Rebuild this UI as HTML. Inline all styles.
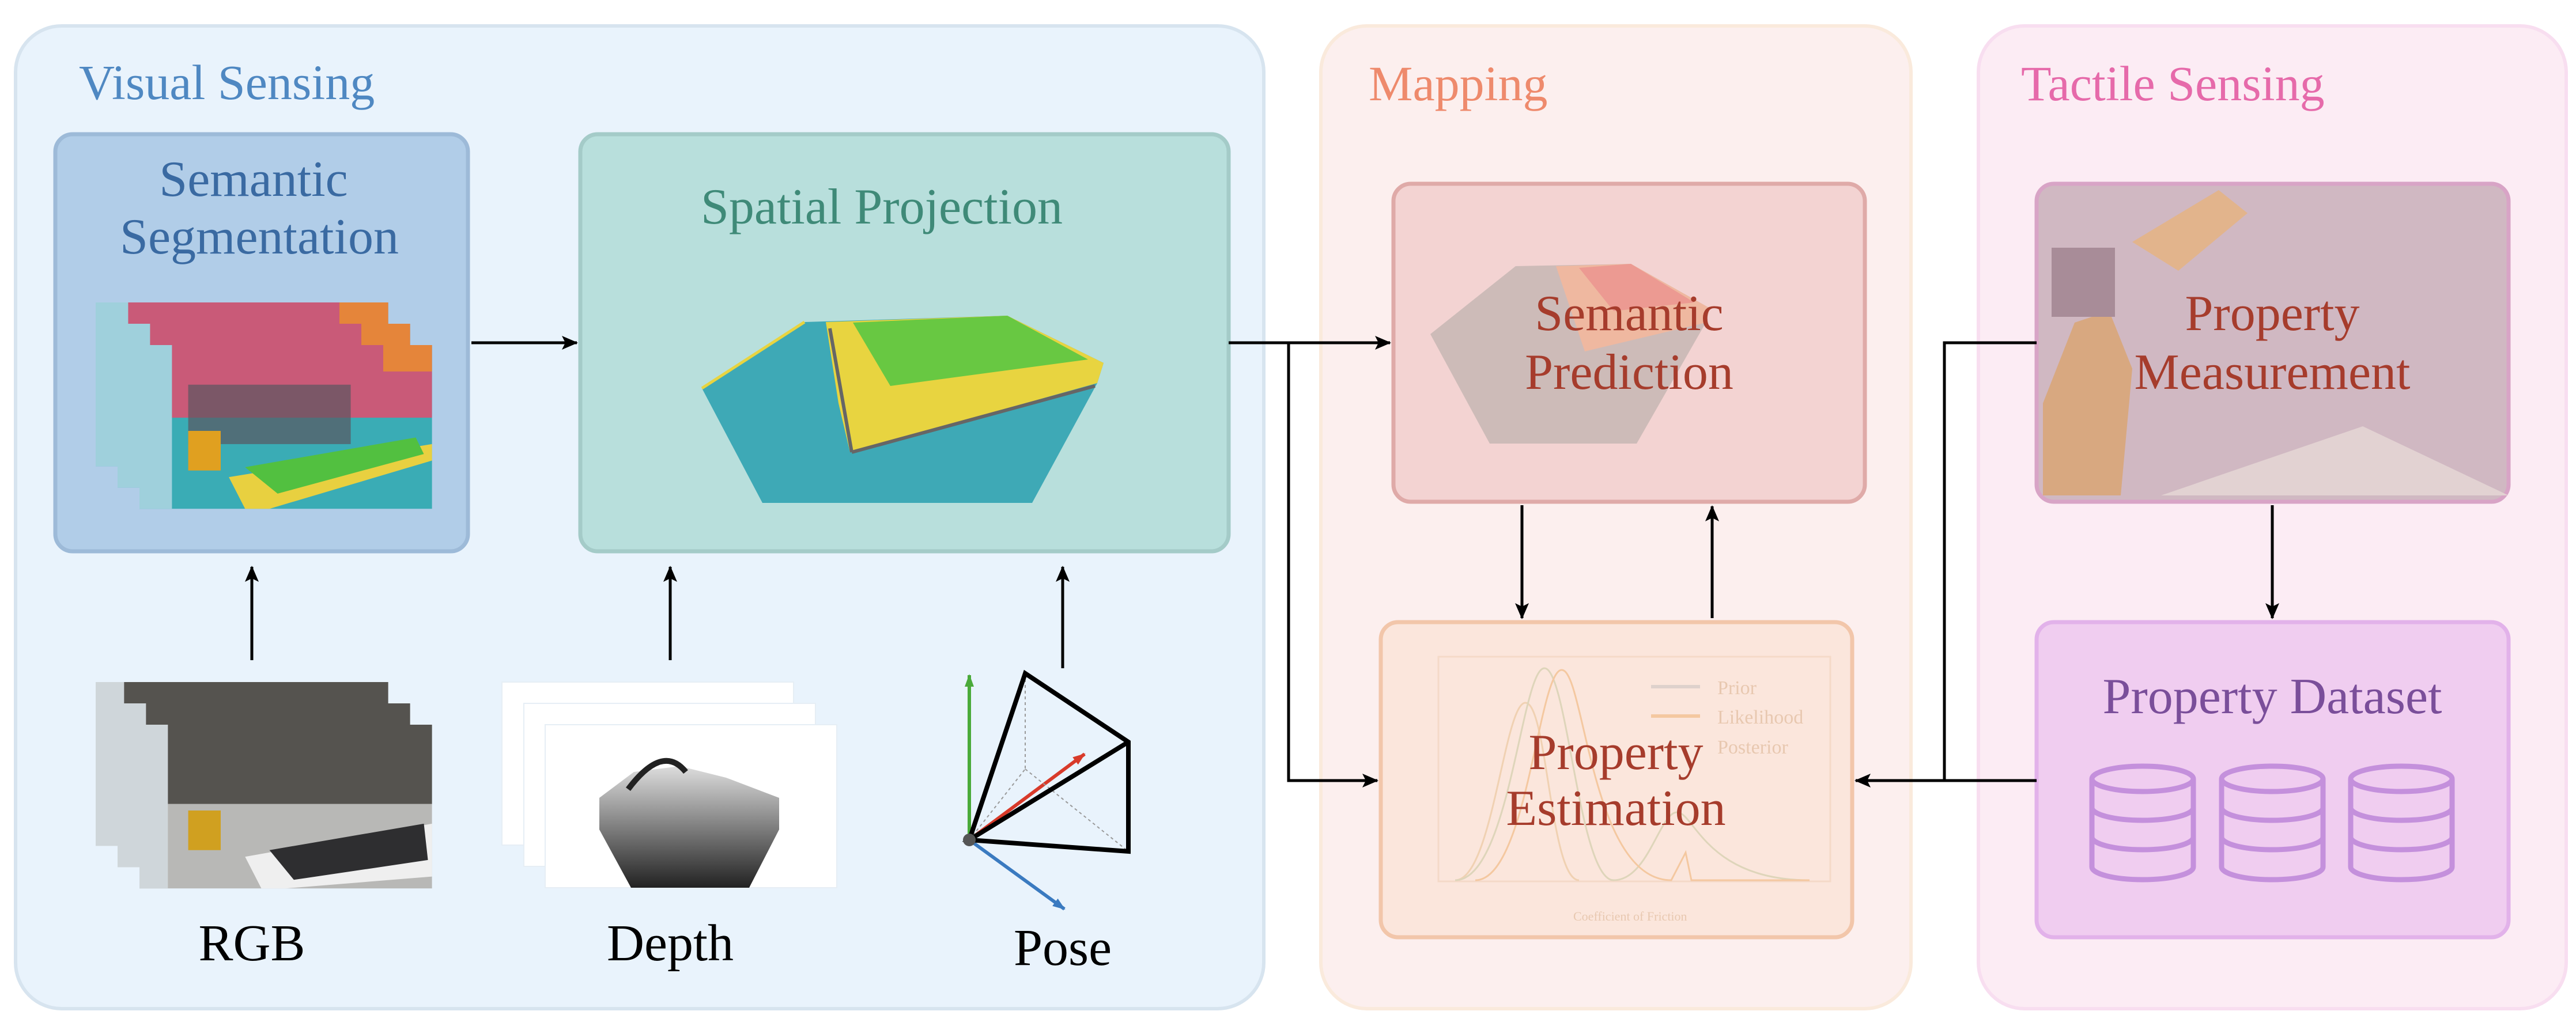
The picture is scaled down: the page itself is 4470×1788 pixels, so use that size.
<!DOCTYPE html>
<html><head><meta charset="utf-8"><style>
html,body{margin:0;padding:0;background:#fff;}
svg{display:block;}
text{font-family:"Liberation Serif",serif;}
</style></head><body>
<svg width="4470" height="1788" viewBox="0 0 4470 1788" xmlns="http://www.w3.org/2000/svg">
<defs>
<marker id="ah" markerWidth="22" markerHeight="22" refX="20" refY="11" orient="auto" markerUnits="userSpaceOnUse">
<path d="M0,3 L22,11 L0,19 z" fill="context-stroke"/></marker>
<marker id="ahg" markerWidth="22" markerHeight="22" refX="20" refY="11" orient="auto" markerUnits="userSpaceOnUse"><path d="M0,3 L22,11 L0,19 z" fill="#4aaa3a"/></marker>
<marker id="ahbl" markerWidth="22" markerHeight="22" refX="20" refY="11" orient="auto" markerUnits="userSpaceOnUse"><path d="M0,3 L22,11 L0,19 z" fill="#3a7ac0"/></marker>
<marker id="ahr" markerWidth="22" markerHeight="22" refX="20" refY="11" orient="auto" markerUnits="userSpaceOnUse"><path d="M0,3 L22,11 L0,19 z" fill="#d83a2a"/></marker>
<marker id="ahb" markerWidth="28" markerHeight="28" refX="26" refY="14" orient="auto" markerUnits="userSpaceOnUse"><path d="M0,2 L28,14 L0,26 L6,14 z" fill="#000"/></marker>
<linearGradient id="dep" x1="0" y1="0" x2="0" y2="1"><stop offset="0" stop-color="#ddd"/><stop offset="1" stop-color="#222"/></linearGradient>
<g id="segf">
<rect x="0" y="0" width="360" height="248" fill="#3aacb5"/>
<rect x="0" y="0" width="360" height="110" fill="#c95a78"/>
<rect x="300" y="0" width="60" height="40" fill="#e5853a"/>
<rect x="0" y="0" width="40" height="248" fill="#9fd0dc"/>
<rect x="60" y="60" width="200" height="90" fill="#5a5560" opacity="0.7"/>
<polygon points="110,200 360,150 360,175 160,248 130,248" fill="#e8d040"/>
<polygon points="130,185 340,140 350,165 170,225" fill="#52c040"/>
<rect x="60" y="130" width="40" height="60" fill="#e0a020"/>
</g>
<g id="rgbf">
<rect x="0" y="0" width="360" height="248" fill="#b8b8b6"/>
<rect x="0" y="0" width="360" height="120" fill="#55534f"/>
<rect x="0" y="0" width="35" height="248" fill="#cfd6da"/>
<polygon points="130,200 360,150 360,230 180,248 150,248" fill="#efefef"/>
<polygon points="160,190 350,150 355,205 190,235" fill="#2e2e30"/>
<rect x="60" y="130" width="40" height="60" fill="#d0a020"/>
</g>
</defs>

<!-- Panels -->
<rect x="27" y="45" width="2166" height="1706" rx="80" fill="#e9f3fc" stroke="#d7e4ef" stroke-width="6"/>
<rect x="2292" y="45" width="1024" height="1706" rx="80" fill="#fcefee" stroke="#faeadc" stroke-width="6"/>
<rect x="3433" y="45" width="1020" height="1706" rx="80" fill="#fcecf4" stroke="#f8def0" stroke-width="6"/>

<text x="137" y="172" font-size="86" fill="#4f88c2">Visual Sensing</text>
<text x="2375" y="174" font-size="86" fill="#ee8a6c">Mapping</text>
<text x="3507" y="174" font-size="86" fill="#e66aaa">Tactile Sensing</text>

<!-- Semantic Segmentation -->
<rect x="96" y="233" width="716" height="724" rx="30" fill="#b1cde8" stroke="#9dbad8" stroke-width="7"/>
<text x="440" y="340" font-size="88" fill="#3a6aa2" text-anchor="middle">Semantic</text>
<text x="450" y="440" font-size="88" fill="#3a6aa2" text-anchor="middle">Segmentation</text>
<use href="#segf" transform="translate(166,525) scale(1.41,1.146)"/>
<use href="#segf" transform="translate(204,562) scale(1.41,1.146)"/>
<use href="#segf" transform="translate(242,599) scale(1.41,1.146)"/>

<!-- Spatial Projection -->
<rect x="1007" y="233" width="1125" height="724" rx="30" fill="#b8dfdc" stroke="#a4cbc8" stroke-width="7"/>
<text x="1530" y="388" font-size="88" fill="#3f8a78" text-anchor="middle">Spatial Projection</text>
<polygon points="1218,674 1396,559 1748,548 1915,630 1904,665 1791,873 1323,873" fill="#3ea9b6"/>
<polygon points="1433,559 1748,548 1915,630 1904,665 1475,785 1455,700" fill="#e8d440"/>
<polygon points="1480,560 1748,548 1888,624 1545,670" fill="#68c842"/>
<line x1="1218" y1="674" x2="1396" y2="559" stroke="#e8d440" stroke-width="5"/>
<line x1="1440" y1="570" x2="1478" y2="785" stroke="#666" stroke-width="6"/>
<line x1="1478" y1="785" x2="1900" y2="670" stroke="#666" stroke-width="6"/>

<!-- arrows visual -->
<line x1="818" y1="595" x2="1001" y2="595" stroke="#000" stroke-width="5" marker-end="url(#ahb)"/>
<line x1="437" y1="1146" x2="437" y2="984" stroke="#000" stroke-width="5" marker-end="url(#ahb)"/>
<line x1="1163" y1="1146" x2="1163" y2="984" stroke="#000" stroke-width="5" marker-end="url(#ahb)"/>
<line x1="1844" y1="1160" x2="1844" y2="984" stroke="#000" stroke-width="5" marker-end="url(#ahb)"/>

<!-- RGB -->
<use href="#rgbf" transform="translate(166,1184) scale(1.41,1.146)"/>
<use href="#rgbf" transform="translate(204,1221) scale(1.41,1.146)"/>
<use href="#rgbf" transform="translate(242,1258) scale(1.41,1.146)"/>
<text x="437" y="1667" font-size="90" fill="#000" text-anchor="middle">RGB</text>

<!-- Depth -->
<rect x="871" y="1184" width="506" height="283" fill="#fff" stroke="#e6eef5" stroke-width="2"/>
<rect x="909" y="1221" width="506" height="283" fill="#fff" stroke="#e6eef5" stroke-width="2"/>
<rect x="946" y="1258" width="506" height="283" fill="#fff" stroke="#e6eef5" stroke-width="2"/>
<polygon points="1040,1385 1100,1340 1180,1330 1260,1350 1352,1385 1352,1440 1300,1541 1095,1541 1040,1440" fill="url(#dep)"/>
<path d="M1090,1370 Q1150,1290 1190,1340" stroke="#222" stroke-width="10" fill="none"/>
<text x="1163" y="1667" font-size="90" fill="#000" text-anchor="middle">Depth</text>

<!-- Pose -->
<line x1="1682" y1="1458" x2="1682" y2="1172" stroke="#4aaa3a" stroke-width="6" marker-end="url(#ahg)"/>
<line x1="1682" y1="1458" x2="1847" y2="1578" stroke="#3a7ac0" stroke-width="6" marker-end="url(#ahbl)"/>
<line x1="1682" y1="1458" x2="1882" y2="1309" stroke="#d83a2a" stroke-width="6" marker-end="url(#ahr)"/>
<line x1="1779" y1="1169" x2="1779" y2="1335" stroke="#999" stroke-width="2" stroke-dasharray="5,5"/>
<line x1="1682" y1="1458" x2="1779" y2="1335" stroke="#999" stroke-width="2" stroke-dasharray="5,5"/>
<line x1="1779" y1="1335" x2="1958" y2="1478" stroke="#999" stroke-width="2" stroke-dasharray="5,5"/>
<polyline points="1682,1458 1779,1169 1958,1288 1958,1478 1682,1458 1958,1288" fill="none" stroke="#000" stroke-width="8" stroke-linejoin="miter"/>
<circle cx="1682" cy="1458" r="11" fill="#555"/>
<text x="1844" y="1675" font-size="90" fill="#000" text-anchor="middle">Pose</text>

<!-- Semantic Prediction -->
<rect x="2418" y="319" width="818" height="552" rx="30" fill="#f3d3d2" stroke="#dfaaa8" stroke-width="7"/>
<polygon points="2482,580 2630,462 2830,458 2967,535 2960,560 2840,770 2585,770" fill="#cdbbb8"/>
<polygon points="2700,462 2830,458 2967,535 2960,560 2750,610" fill="#efb8a0"/>
<polygon points="2740,465 2830,458 2940,525 2800,540" fill="#ec9a92"/>
<text x="2827" y="573" font-size="88" fill="#a63c2c" text-anchor="middle">Semantic</text>
<text x="2827" y="675" font-size="88" fill="#a63c2c" text-anchor="middle">Prediction</text>

<!-- Property Estimation -->
<rect x="2396" y="1080" width="818" height="547" rx="30" fill="#fbe6dc" stroke="#f2c6aa" stroke-width="7"/>
<g fill="none" stroke-width="3" opacity="0.55">
<rect x="2496" y="1140" width="680" height="390" stroke="#f0d0b8"/>
<path d="M2525,1528 C2590,1528 2610,1220 2647,1220 C2685,1220 2690,1528 2740,1528" stroke="#e8c090"/>
<path d="M2525,1528 C2620,1528 2640,1160 2680,1160 C2720,1160 2740,1528 2800,1528 C2860,1528 2880,1410 2910,1410 C2940,1410 2960,1528 3140,1528" stroke="#c8c8a0"/>
<path d="M2560,1528 C2650,1528 2670,1163 2710,1163 C2750,1163 2760,1528 2900,1528 L2925,1480 L2935,1528 L3140,1528" stroke="#f0b070"/>
<line x1="2865" y1="1192" x2="2950" y2="1192" stroke="#c8c0c0" stroke-width="6"/>
<line x1="2865" y1="1243" x2="2950" y2="1243" stroke="#f0b070" stroke-width="6"/>
</g>
<g font-family="Liberation Sans,sans-serif" font-size="34" fill="#e8c8b0">
<text x="2980" y="1205">Prior</text><text x="2980" y="1256">Likelihood</text><text x="2980" y="1308">Posterior</text>
<text x="2730" y="1598" font-size="22">Coefficient of Friction</text>
</g>
<text x="2804" y="1335" font-size="88" fill="#a63c2c" text-anchor="middle">Property</text>
<text x="2804" y="1432" font-size="88" fill="#a63c2c" text-anchor="middle">Estimation</text>

<!-- Property Measurement -->
<rect x="3534" y="319" width="819" height="552" rx="30" fill="#d0b8c2" stroke="#d8a4c6" stroke-width="7"/>
<polygon points="3700,420 3850,330 3900,370 3780,470" fill="#e2b48c"/>
<polygon points="3545,700 3600,560 3660,540 3700,640 3680,860 3545,860" fill="#d8a880"/>
<polygon points="3750,860 4100,740 4353,860" fill="#e2d2d2"/>
<rect x="3560" y="430" width="110" height="120" fill="#a88c98"/>
<text x="3943" y="573" font-size="88" fill="#a63c2c" text-anchor="middle">Property</text>
<text x="3943" y="675" font-size="88" fill="#a63c2c" text-anchor="middle">Measurement</text>

<!-- Property Dataset -->
<rect x="3534" y="1080" width="819" height="547" rx="30" fill="#f0cdf0" stroke="#e2b2ea" stroke-width="7"/>
<text x="3943" y="1238" font-size="88" fill="#7a4e9a" text-anchor="middle">Property Dataset</text>
<g fill="none" stroke="#c490dc" stroke-width="9">
<g id="db">
<ellipse cx="3718" cy="1352" rx="88" ry="22"/>
<path d="M3630,1352 V1505 A88,22 0 0 0 3806,1505 V1352"/>
<path d="M3630,1402 A88,22 0 0 0 3806,1402"/>
<path d="M3630,1453 A88,22 0 0 0 3806,1453"/>
</g>
<use href="#db" x="225"/>
<use href="#db" x="449"/>
</g>

<!-- connectors -->
<polyline points="2132,595 2412,595" fill="none" stroke="#000" stroke-width="5" marker-end="url(#ahb)"/>
<polyline points="2236,595 2236,1355 2390,1355" fill="none" stroke="#000" stroke-width="5" marker-end="url(#ahb)"/>
<line x1="2641" y1="877" x2="2641" y2="1073" stroke="#000" stroke-width="5" marker-end="url(#ahb)"/>
<line x1="2971" y1="1073" x2="2971" y2="879" stroke="#000" stroke-width="5" marker-end="url(#ahb)"/>
<polyline points="3534,595 3374,595 3374,1355" fill="none" stroke="#000" stroke-width="5"/>
<line x1="3534" y1="1355" x2="3220" y2="1355" stroke="#000" stroke-width="5" marker-end="url(#ahb)"/>
<line x1="3943" y1="877" x2="3943" y2="1073" stroke="#000" stroke-width="5" marker-end="url(#ahb)"/>
</svg>
</body></html>
